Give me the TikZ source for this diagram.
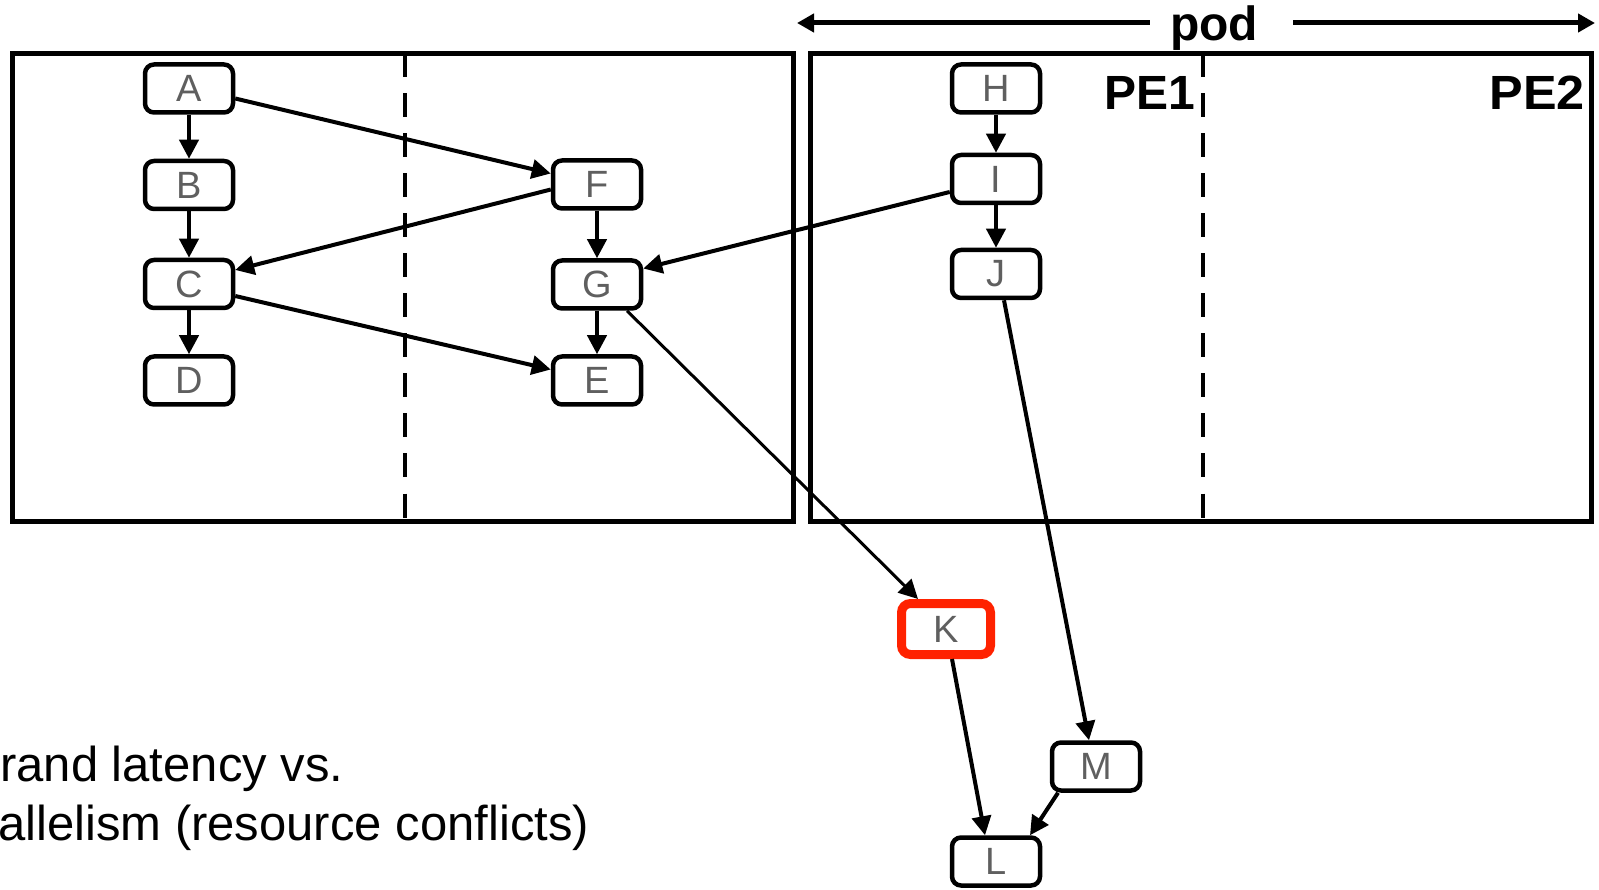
\documentclass[tikz,border=0pt]{standalone}
\usepackage{fontspec}
\setmainfont{Liberation Sans}
\usetikzlibrary{arrows.meta}
\definecolor{hotred}{RGB}{255,34,0}
\definecolor{lettergray}{RGB}{95,95,95}
\begin{document}
\begin{tikzpicture}[x=1pt,y=-1pt,
  op/.style={draw, line width=4.5pt, rounded corners=9pt, minimum width=88pt,
    minimum height=48pt, inner sep=0pt, text=lettergray,
    font=\fontsize{38}{38}\selectfont},
  hot/.style={op, draw=hotred, line width=9pt, minimum width=89pt, minimum height=51pt},
  flow/.style={line width=4pt, -{Triangle[length=19pt,width=19pt]}},
  frame/.style={line width=5pt},
  divider/.style={line width=4pt, dash pattern=on 24pt off 16pt},
  pelabel/.style={font=\fontsize{48}{48}\selectfont\bfseries, inner sep=0pt},
  span/.style={line width=5pt, -{Triangle[length=17pt,width=18pt]}},
  note/.style={font=\fontsize{49}{49}\selectfont, inner sep=0pt, anchor=base west}
]
\useasboundingbox (0,0) rectangle (1599,890);

% two processing elements of the pod
\draw[frame] (12,53.5) rectangle (793.5,521.5);
\draw[frame] (810.5,53.5) rectangle (1591.5,521.5);
\draw[divider] (405,53.5) -- (405,521.5);
\draw[divider] (1203,53.5) -- (1203,521.5);

% labels
\node[pelabel, anchor=base east] (pe1) at (1195,110) {PE1};
\node[pelabel, anchor=base east, xscale=1.05] (pe2) at (1585,110) {PE2};
\node[pelabel, anchor=base] (pod) at (1214,41) {pod};
\coordinate (podL) at (797,23);
\coordinate (podR) at (1595,23);
\draw[span] ([xshift=-20pt]pod.west |- podL) -- (podL);
\draw[span] ([xshift=35pt]pod.east |- podR) -- (podR);

% operations
\node[op] (A) at (189,88.5) {A};
\node[op] (B) at (189,185) {B};
\node[op] (C) at (189,284) {C};
\node[op] (D) at (189,380.5) {D};
\node[op] (F) at (597,184.5) {F};
\node[op] (G) at (597,284.5) {G};
\node[op] (E) at (597,380.5) {E};
\node[op] (H) at (996,88.5) {H};
\node[op] (I) at (996,179) {I};
\node[op] (J) at (996,274) {J};
\node[hot] (K) at (946,629) {K};
\node[op] (M) at (1096,766.5) {M};
\node[op] (L) at (996,861.5) {L};

% dependences
\draw[flow] (A) -- (B);
\draw[flow] (B) -- (C);
\draw[flow] (C) -- (D);
\draw[flow] (F) -- (G);
\draw[flow] (G) -- (E);
\draw[flow] (H) -- (I);
\draw[flow] (I) -- (J);
\draw[flow] ([yshift=-10pt]A.east) -- ([yshift=11pt]F.west);
\draw[flow] ([yshift=-5pt]F.west) -- ([yshift=14pt]C.east);
\draw[flow] ([yshift=-12pt]C.east) -- ([yshift=11pt]E.west);
\draw[flow] ([yshift=-13pt]I.west) -- ([yshift=16pt]G.east);
\draw[flow, line width=3pt] ([xshift=30pt]G.south) -- ([xshift=-28pt]K.north);
\draw[flow] ([xshift=8pt]J.south) -- ([xshift=-7pt]M.north);
\draw[flow] ([xshift=6pt]K.south) -- ([xshift=-11pt]L.north);
\draw[flow] ([xshift=-38pt]M.south) -- ([xshift=34pt]L.north);

% text below
\node[note] (t1) at (0,781) {rand latency vs.};
\node[note] (t2) at (-2,840) {allelism (resource conflicts)};
\end{tikzpicture}
\end{document}
